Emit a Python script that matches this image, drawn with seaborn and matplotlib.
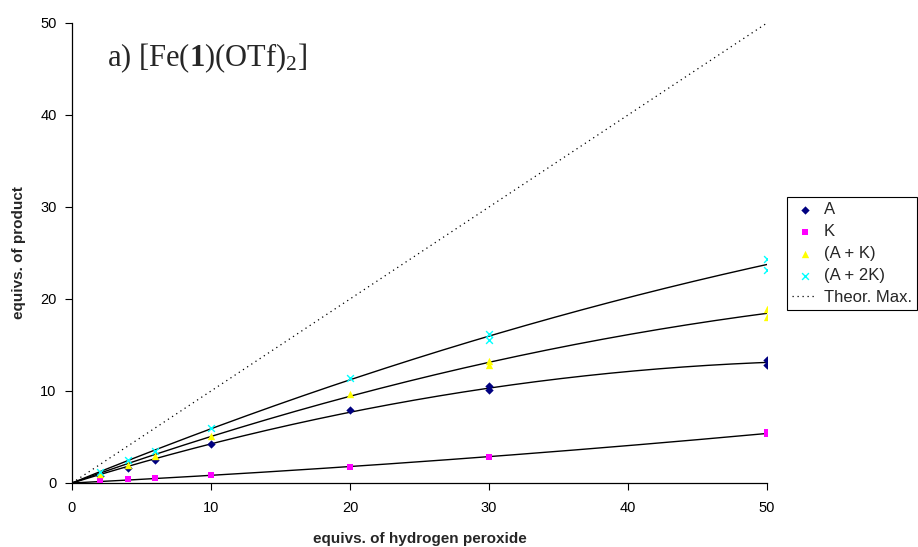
import numpy as np
import pandas as pd
import matplotlib
matplotlib.use("Agg")
import matplotlib.pyplot as plt
import seaborn as sns

# ---- data ----
peroxide = [2, 4, 6, 10, 20, 30, 30, 50, 50]
series_names = ["A", "K", "(A + K)", "(A + 2K)"]
vals_A = [0.8, 1.6, 2.5, 4.2, 7.9, 10.5, 10.1, 13.4, 12.8]
vals_K = [0.3, 0.4, 0.55, 0.87, 1.77, 2.85, 2.8, 5.5, 5.3]
vals_AK = [1.0, 2.0, 2.95, 5.1, 9.65, 13.3, 12.8, 18.9, 18.0]
vals_A2K = [1.15, 2.5, 3.5, 5.95, 11.45, 16.2, 15.5, 24.4, 23.15]
theor_x = [0, 50]
theor_y = [0, 50]
x_ticks = [0, 10, 20, 30, 40, 50]
y_ticks = [0, 10, 20, 30, 40, 50]

sns.set_theme(style="ticks")
plt.rcParams["font.family"] = ["Liberation Sans", "DejaVu Sans"]
plt.rcParams["mathtext.fontset"] = "custom"
plt.rcParams["mathtext.rm"] = "Liberation Serif"
plt.rcParams["mathtext.bf"] = "Liberation Serif:bold"
plt.rcParams["mathtext.it"] = "Liberation Serif:italic"

df = pd.DataFrame({
    "x": peroxide * 4,
    "y": vals_A + vals_K + vals_AK + vals_A2K,
    "series": sum([[n] * len(peroxide) for n in series_names], []),
})

fig = plt.figure(figsize=(9.18, 5.47), dpi=100)
ax = fig.add_axes([72 / 918, 1 - 483 / 547, (767 - 72) / 918, (483 - 23) / 547])

# trendlines (2nd order polynomial through origin)
xs = np.linspace(0, 50, 200)
for name, vals in zip(series_names, [vals_A, vals_K, vals_AK, vals_A2K]):
    X = np.column_stack([np.array(peroxide, float), np.array(peroxide, float) ** 2])
    coef, *_ = np.linalg.lstsq(X, np.array(vals), rcond=None)
    ys = coef[0] * xs + coef[1] * xs ** 2
    sns.lineplot(x=xs, y=ys, ax=ax, color="black", linewidth=1.0, legend=False, zorder=2)

palette = {"A": "#000080", "K": "#FF00FF", "(A + K)": "#FFFF00", "(A + 2K)": "#00FFFF"}
markers = {"A": "D", "K": "s", "(A + K)": "^", "(A + 2K)": "x"}
sizes = {"A": 18, "K": 24, "(A + K)": 28, "(A + 2K)": 24}
for name in series_names:
    sub = df[df["series"] == name]
    kw = dict(linewidth=1.0) if name == "(A + 2K)" else dict(linewidth=0)
    sns.scatterplot(data=sub, x="x", y="y", ax=ax, color=palette[name],
                    marker=markers[name], s=sizes[name], label=name, zorder=3, **kw)

ax.plot(theor_x, theor_y, color="black", linestyle=(0, (1, 3)), linewidth=0.9,
        label="Theor. Max.", zorder=1)

ax.set_xlim(0, 50)
ax.set_ylim(0, 50)
ax.set_xticks(x_ticks)
ax.set_yticks(y_ticks)
ax.tick_params(axis="both", direction="out", length=5, width=0.8, labelsize=10.5,
               colors="black")
ax.tick_params(axis="x", pad=8)
ax.tick_params(axis="y", pad=6)
for s in ["top", "right"]:
    ax.spines[s].set_visible(False)
for s in ["left", "bottom"]:
    ax.spines[s].set_color("black")
    ax.spines[s].set_linewidth(0.9)

ax.set_xlabel("equivs. of hydrogen peroxide", fontsize=11, fontweight="bold", labelpad=12)
ax.set_ylabel("equivs. of product", fontsize=11, fontweight="bold", labelpad=10)

ax.text(2.5, 46.2, r"a) [Fe($\mathbf{1}$)(OTf)$_\mathrm{2}$]", fontsize=22,
        family="Liberation Serif", va="center", ha="left")

leg = ax.legend(loc="upper left", bbox_to_anchor=(787 / 918, 1 - 197 / 547),
                bbox_transform=fig.transFigure, fontsize=12, frameon=True,
                fancybox=False, framealpha=1, edgecolor="black", borderpad=0.3,
                labelspacing=0.42, handlelength=1.5, handletextpad=0.4,
                borderaxespad=0)
leg.get_frame().set_linewidth(0.8)

fig.savefig("out.png", dpi=100)
